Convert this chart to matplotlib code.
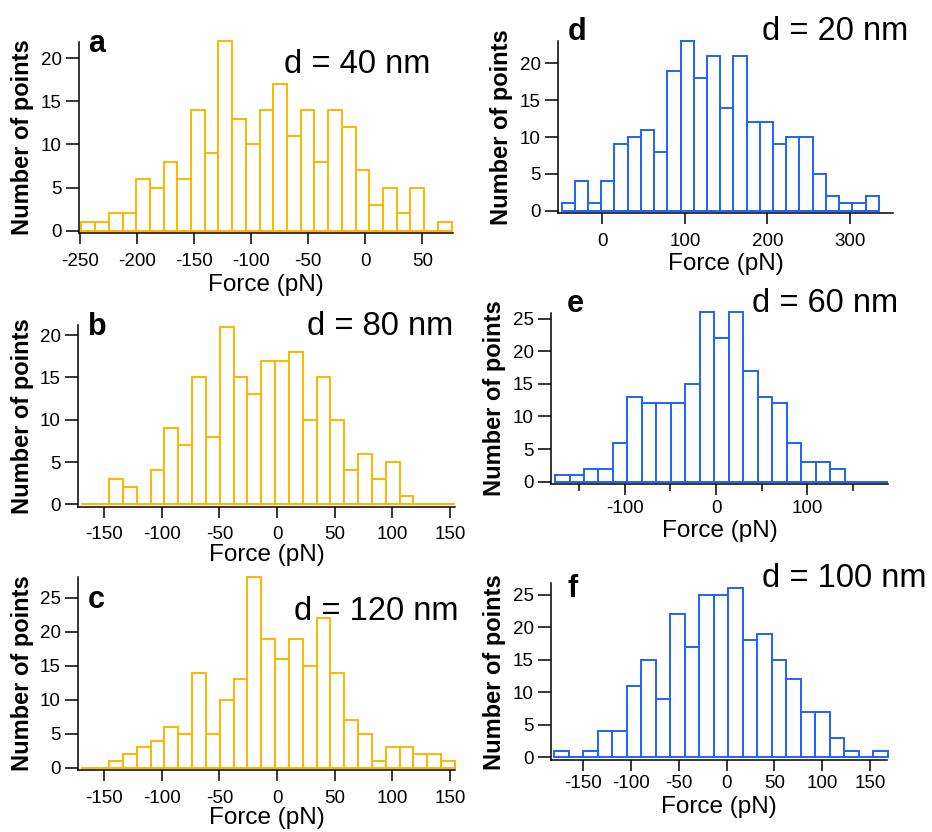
import matplotlib
matplotlib.use("Agg")
import matplotlib.pyplot as plt
import numpy as np

plt.rcParams['font.family'] = ['Liberation Sans', 'DejaVu Sans']

W, H = 932, 832
ORANGE = '#ffb500'
BLUE = '#1f62ff'

# histogram counts (number of points per bin)
counts_a = [1, 1, 2, 2, 6, 5, 8, 6, 14, 9, 22, 13, 10, 14, 17, 11, 14, 8, 14, 12, 7, 3, 5, 2, 5, 0, 1]
counts_b = [0, 0, 3, 2, 0, 4, 9, 7, 15, 8, 21, 15, 13, 17, 17, 18, 10, 15, 10, 4, 6, 3, 5, 1, 0, 0, 0]
counts_c = [0, 0, 1, 2, 3, 4, 6, 5, 14, 5, 10, 13, 28, 19, 16, 19, 15, 22, 14, 7, 5, 1, 3, 3, 2, 2, 1]
counts_d = [1, 4, 1, 4, 9, 10, 11, 8, 19, 23, 18, 21, 14, 21, 12, 12, 9, 10, 10, 5, 2, 1, 1, 2]
counts_e = [1, 1, 2, 2, 6, 13, 12, 12, 12, 15, 26, 22, 26, 17, 13, 12, 6, 3, 3, 2, 0, 0, 0]
counts_f = [1, 0, 1, 4, 4, 11, 15, 9, 22, 17, 25, 25, 26, 18, 19, 15, 12, 7, 7, 3, 1, 0, 1]

# first bin edge and bin width, in pN
bins_a = (-248.5, 12.0)
bins_b = (-169.7, 12.0)
bins_c = (-169.7, 12.0)
bins_d = (-49.3, 16.0)
bins_e = (-176.6, 15.9)
bins_f = (-180.3, 15.17)

panel_letters = ['a', 'b', 'c', 'd', 'e', 'f']
distances = ['d = 40 nm', 'd = 80 nm', 'd = 120 nm', 'd = 20 nm', 'd = 60 nm', 'd = 100 nm']

xticks_a = [-250, -200, -150, -100, -50, 0, 50]
xticks_bc = [-150, -100, -50, 0, 50, 100, 150]
xticks_d = [0, 100, 200, 300]
xticks_e = [-100, 0, 100]
xticks_e_minor = [-150, -50, 50, 150]
xticks_f = [-150, -100, -50, 0, 50, 100, 150]

# layout in pixels: left, right, top, y of zero count; axis limits; label spots
panels = [
    dict(counts=counts_a, bins=bins_a, color=ORANGE, box=(79, 453, 41.7, 230.7),
         xlim=(-250.6, 76.8), ytop=21.9, yticks=[0, 5, 10, 15, 20], xticks=xticks_a,
         letter=(88, 52), dist=(430, 73), ylab_x=34, xlab_gap=41, xpad=6),
    dict(counts=counts_b, bins=bins_b, color=ORANGE, box=(78, 455, 325, 504.3),
         xlim=(-172.6, 154.3), ytop=21.2, yticks=[0, 5, 10, 15, 20], xticks=xticks_bc,
         letter=(88, 335), dist=(453, 335), ylab_x=34, xlab_gap=37, xpad=6),
    dict(counts=counts_c, bins=bins_c, color=ORANGE, box=(78, 455, 576.7, 767.7),
         xlim=(-172.6, 154.3), ytop=28.1, yticks=[0, 5, 10, 15, 20, 25], xticks=xticks_bc,
         letter=(88, 608), dist=(458, 620), ylab_x=34, xlab_gap=37, xpad=6),
    dict(counts=counts_d, bins=bins_d, color=BLUE, box=(558.3, 892.7, 40.7, 210.7),
         xlim=(-53.3, 351.6), ytop=23.07, yticks=[0, 5, 10, 15, 20], xticks=xticks_d,
         letter=(568, 40), dist=(908, 40), ylab_x=513, xlab_gap=40, xpad=6),
    dict(counts=counts_e, bins=bins_e, color=BLUE, box=(551, 888.3, 312.7, 481.7),
         xlim=(-181, 189), ytop=25.9, yticks=[0, 5, 10, 15, 20, 25], xticks=xticks_e,
         minor=xticks_e_minor,
         letter=(567, 312), dist=(898, 312), ylab_x=506, xlab_gap=36, xpad=3),
    dict(counts=counts_f, bins=bins_f, color=BLUE, box=(551, 887.3, 583.3, 757.3),
         xlim=(-183.8, 168.1), ytop=26.8, yticks=[0, 5, 10, 15, 20, 25], xticks=xticks_f,
         letter=(567, 597), dist=(927, 587), ylab_x=506, xlab_gap=36, xpad=3),
]

SPINE_DROP = 2.7  # x axis sits a little below the zero line

fig = plt.figure(figsize=(W / 100, H / 100), dpi=100)

for p, letter, dist in zip(panels, panel_letters, distances):
    left, right, top, zero = p['box']
    bottom = zero + SPINE_DROP
    ax = fig.add_axes([left / W, 1 - bottom / H, (right - left) / W, (bottom - top) / H])

    per_unit = (zero - top) / p['ytop']
    ax.set_ylim(-SPINE_DROP / per_unit, p['ytop'])
    ax.set_xlim(*p['xlim'])

    start, width = p['bins']
    edges = start + width * np.arange(len(p['counts']))
    bars = ax.bar(edges, p['counts'], width=width, align='edge', facecolor='white',
                  edgecolor=p['color'], linewidth=1.4, zorder=2)
    for b in bars:
        b.set_clip_on(False)

    for side in ('top', 'right'):
        ax.spines[side].set_visible(False)
    for side in ('left', 'bottom'):
        ax.spines[side].set_linewidth(1.1)

    ax.set_xticks(p['xticks'])
    ax.set_xticklabels([str(t) for t in p['xticks']])
    if 'minor' in p:
        ax.set_xticks(p['minor'], minor=True)
    ax.set_yticks(p['yticks'])
    ax.tick_params(axis='x', which='major', length=8, width=1.1, labelsize=13.5, pad=p['xpad'])
    ax.tick_params(axis='x', which='minor', length=5, width=1.1)
    ax.tick_params(axis='y', length=9.5, width=1.1, labelsize=13.5, pad=3)

    ax.set_ylabel('Number of points', fontsize=17, fontweight='bold')
    ax.yaxis.set_label_coords((p['ylab_x'] - left) / (right - left), 0.5)
    ax.set_xlabel('Force (pN)', fontsize=17.5)
    ax.xaxis.set_label_coords(0.5, -p['xlab_gap'] / (bottom - top))

    lx, ly = p['letter']
    fig.text(lx / W, 1 - ly / H, letter, fontsize=22, fontweight='bold',
             ha='left', va='baseline')
    dx, dy = p['dist']
    fig.text(dx / W, 1 - dy / H, dist, fontsize=23.5, ha='right', va='baseline')

fig.savefig('out.png', dpi=100)
